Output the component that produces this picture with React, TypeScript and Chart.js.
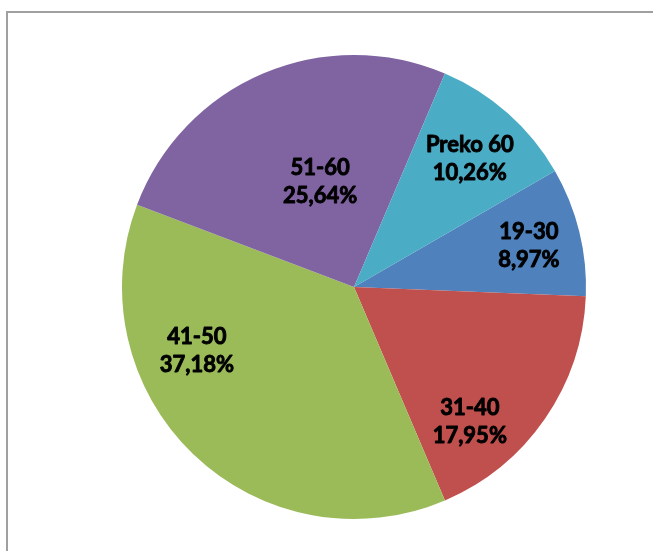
import React, { useEffect, useRef } from "react";
import { Chart, registerables } from "chart.js";

Chart.register(...registerables);

const categories = ["19-30", "31-40", "41-50", "51-60", "Preko 60"];
const percentages = [8.97, 17.95, 37.18, 25.64, 10.26];
const colors = ["#4F81BD", "#C0504D", "#9BBB59", "#8064A2", "#4BACC6"];

// label placement per slice: [angle offset from mid-angle (deg), radius fraction]
const labelPlacement: [number, number][] = [
  [0.7, 0.774],
  [14.8, 0.767],
  [24, 0.731],
  [5.2, 0.476],
  [0.6, 0.744],
];

const labelPlugin = {
  id: "sliceLabels",
  afterDatasetsDraw(chart: any) {
    const ctx = chart.ctx;
    const meta = chart.getDatasetMeta(0);
    ctx.save();
    ctx.font = "bold 22px Lato";
    ctx.fillStyle = "#000";
    ctx.strokeStyle = "#000";
    ctx.lineWidth = 0.9;
    ctx.lineJoin = "round";
    ctx.textAlign = "center";
    ctx.textBaseline = "middle";
    meta.data.forEach((arc: any, i: number) => {
      const p = arc.getProps(["x", "y", "startAngle", "endAngle", "outerRadius"], true);
      const [off, frac] = labelPlacement[i];
      const mid = (p.startAngle + p.endAngle) / 2 + (off * Math.PI) / 180;
      const r = p.outerRadius * frac;
      const cx = p.x + Math.cos(mid) * r;
      const cy = p.y + Math.sin(mid) * r;
      const pct = percentages[i].toFixed(2).replace(".", ",") + "%";
      ctx.fillText(categories[i], cx, cy - 14);
      ctx.strokeText(categories[i], cx, cy - 14);
      ctx.fillText(pct, cx, cy + 14);
      ctx.strokeText(pct, cx, cy + 14);
    });
    ctx.restore();
  },
};

export default function App() {
  const ref = useRef<HTMLCanvasElement>(null);
  useEffect(() => {
    if (!ref.current) return;
    const chart = new Chart(ref.current, {
      type: "pie",
      data: {
        labels: categories,
        datasets: [
          {
            data: percentages,
            backgroundColor: colors,
            borderWidth: 0,
          },
        ],
      },
      options: {
        animation: false,
        responsive: false,
        rotation: 60,
        layout: { padding: { left: 122, right: 67, top: 55, bottom: 32 } },
        plugins: {
          legend: { display: false },
          tooltip: { enabled: false },
        },
      },
      plugins: [labelPlugin],
    });
    return () => chart.destroy();
  }, []);
  return (
    <div
      style={{
        position: "fixed",
        left: 0,
        top: 0,
        width: 653,
        height: 551,
        overflow: "hidden",
        background: "#fff",
      }}
    >
      <div
        style={{
          position: "absolute",
          left: 6,
          top: 11,
          width: 680,
          height: 580,
          border: "2px solid #a0a0a0",
        }}
      />
      <canvas
        ref={ref}
        width={653}
        height={551}
        style={{ position: "absolute", left: 0, top: 0 }}
      />
    </div>
  );
}
